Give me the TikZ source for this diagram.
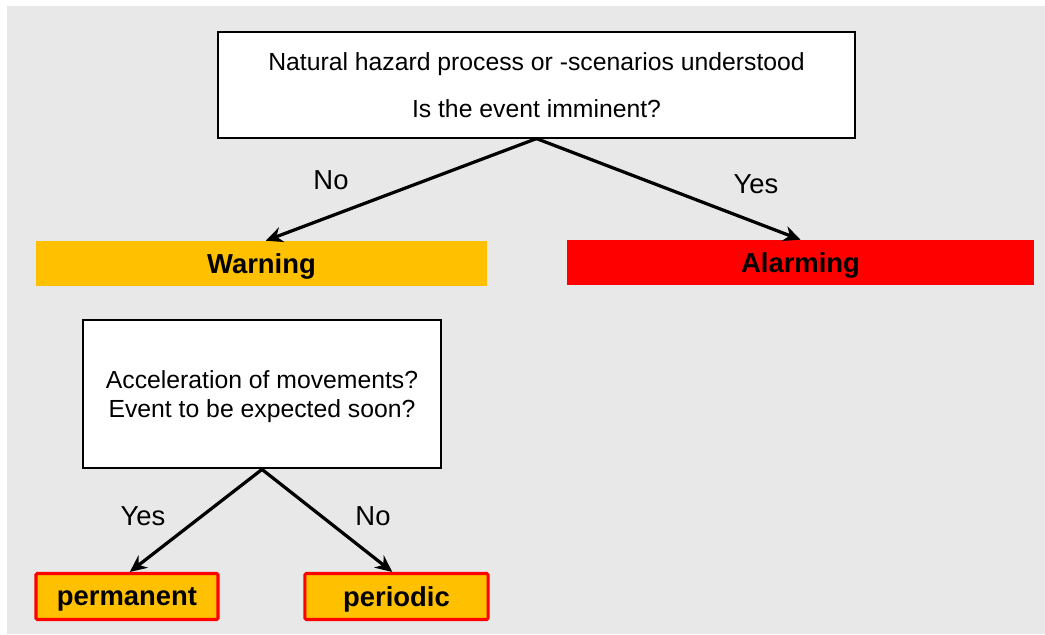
\documentclass[tikz,border=0pt]{standalone}
\usepackage{fontspec}
\setmainfont{Liberation Sans}
\usepackage{tikz}
\usetikzlibrary{arrows.meta, positioning}
\definecolor{bggrey}{HTML}{E8E8E8}
\definecolor{warnorange}{HTML}{FFC000}
\definecolor{alarmred}{HTML}{FF0000}
\tikzset{
  question/.style={
    rectangle,
    inner sep=0pt,
    align=center,
    draw=black,
    line width=1.4pt,
    fill=white,
    font=\fontsize{17.6}{21}\selectfont
    },
  level/.style={
    rectangle,
    inner sep=0pt,
    minimum height=1.125cm,
    text depth=0pt,
    align=center,
    font=\fontsize{19.5}{23}\selectfont\bfseries
    },
  kind/.style={
    rectangle,
    rounded corners=1pt,
    inner sep=0pt,
    minimum height=1.15cm,
    text depth=0pt,
    align=center,
    draw=alarmred,
    line width=2.2pt,
    fill=warnorange,
    font=\fontsize{19.5}{23}\selectfont\bfseries
    },
  answer/.style={
    inner sep=0pt,
    font=\fontsize{19.5}{23}\selectfont
    },
  arrow/.style={line width=2.3pt,-{Stealth[length=12pt,width=11pt]}}
}

\begin{document}
\begin{tikzpicture}[x=0.025cm, y=-0.025cm]
\useasboundingbox (0,0) rectangle (1045,635);
\fill[bggrey] (7,6) rectangle (1045,634);
\node (hazard) [question, minimum width=15.9cm, minimum height=2.63cm] at (536.5,85)
  {Natural hazard process or -scenarios understood\\[12pt]Is the event imminent?};
\node (warning) [level, fill=warnorange, minimum width=11.275cm] at (261.5,263.5) {Warning};
\node (alarming) [level, fill=alarmred, minimum width=11.675cm] at (800.5,262.5) {Alarming};
\node (accel) [question, minimum width=8.97cm, minimum height=3.72cm, text depth=0pt] at (262,394)
  {Acceleration of movements?\\Event to be expected soon?};
\node (permanent) [kind, minimum width=4.55cm] at (127,596.5) {permanent};
\node (periodic) [kind, minimum width=4.58cm] at (396.5,596.5) {periodic};
\node (no1) [answer] at (331,180) {No};
\node (yes1) [answer] at (756,184) {Yes};
\node (yes2) [answer] at (143,516) {Yes};
\node (no2) [answer] at (373,516) {No};
\draw[arrow] (hazard.south) -- ([xshift=3pt]warning.north);
\draw[arrow] (hazard.south) -- (alarming.north);
\draw[arrow] (accel.south) -- ([xshift=2pt]permanent.north);
\draw[arrow] (accel.south) -- ([xshift=-3pt]periodic.north);
\end{tikzpicture}
\end{document}
